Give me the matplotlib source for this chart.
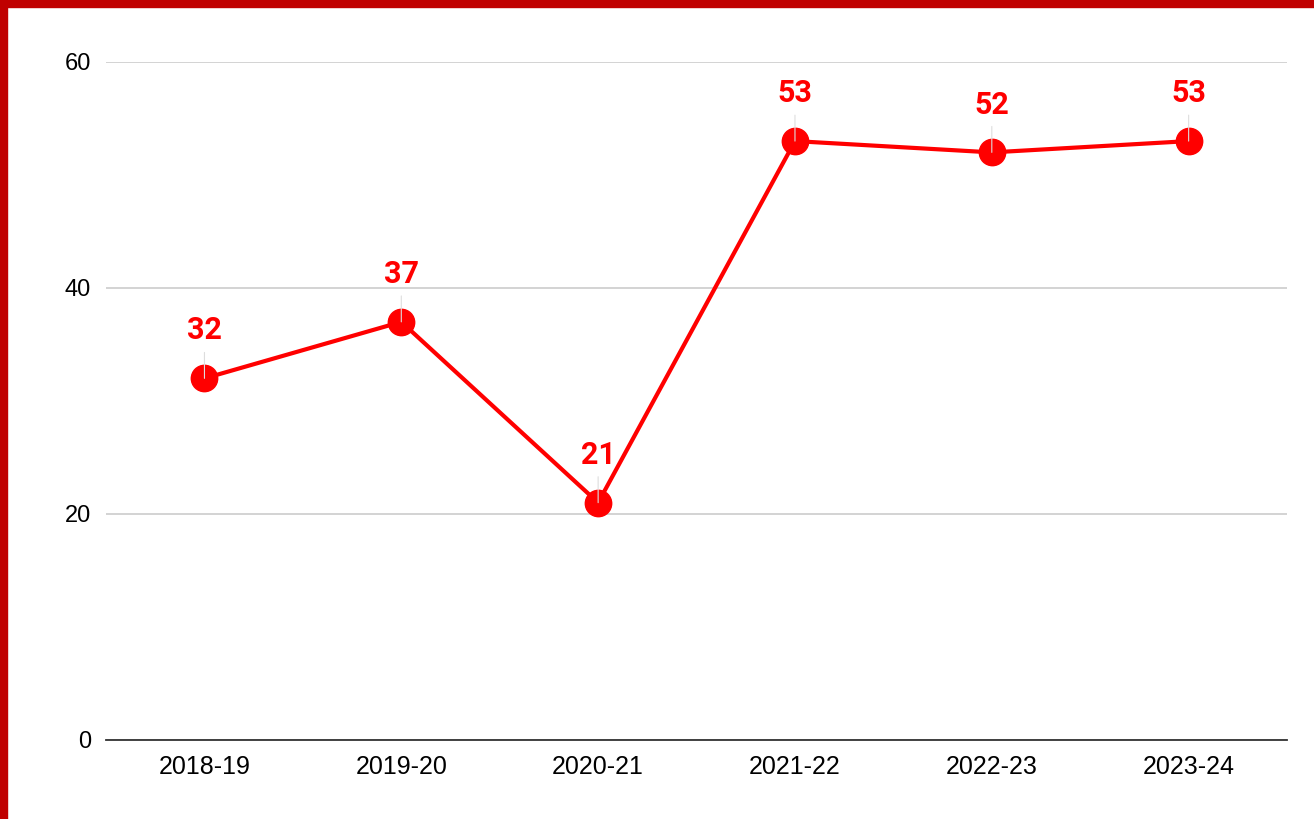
import numpy as np
from matplotlib import pyplot as plt
from matplotlib.patches import Rectangle

years = ["2018-19", "2019-20", "2020-21", "2021-22", "2022-23", "2023-24"]
values = [32, 37, 21, 53, 52, 53]
yticks = [0, 20, 40, 60]

red = "#ff0000"

fig = plt.figure(figsize=(13.14, 8.19), dpi=100)
ax = fig.add_axes([0.0807, 0.0965, 0.8988, 0.8278])

x = np.arange(len(years))
ax.plot(x, values, color=red, linewidth=3, marker="o", markersize=19, zorder=3)

# value labels with thin leader lines
for xi, v in zip(x, values):
    ax.annotate(str(v), xy=(xi, v), xytext=(0, 28), textcoords="offset points",
                ha="center", va="baseline", color=red, fontsize=22, fontweight="bold",
                family="Roboto",
                arrowprops=dict(arrowstyle="-", color="#dddddd", lw=0.8, shrinkA=3, shrinkB=0))

ax.set_xlim(-0.5, len(years) - 0.5)
ax.set_ylim(0, 60)
ax.set_xticks(x)
ax.set_xticklabels(years, family="Liberation Sans", fontsize=18)
ax.set_yticks(yticks)
ax.set_yticklabels([str(t) for t in yticks], family="Liberation Sans", fontsize=17)
ax.tick_params(length=0, pad=11)
ax.grid(axis="y", color="#cccccc", linewidth=1.2)
ax.set_axisbelow(True)
for s in ["top", "right", "left"]:
    ax.spines[s].set_visible(False)
ax.spines["bottom"].set_color("#333333")
ax.spines["bottom"].set_linewidth(1.3)
ax.spines["bottom"].set_zorder(4)

# red frame on left and top
fig.patches.append(Rectangle((0, 0), 7 / 1314, 1, transform=fig.transFigure, color="#c00000", zorder=10))
fig.patches.append(Rectangle((0, 1 - 7 / 819), 1, 7 / 819, transform=fig.transFigure, color="#c00000", zorder=10))

fig.savefig("out.png", dpi=100)
